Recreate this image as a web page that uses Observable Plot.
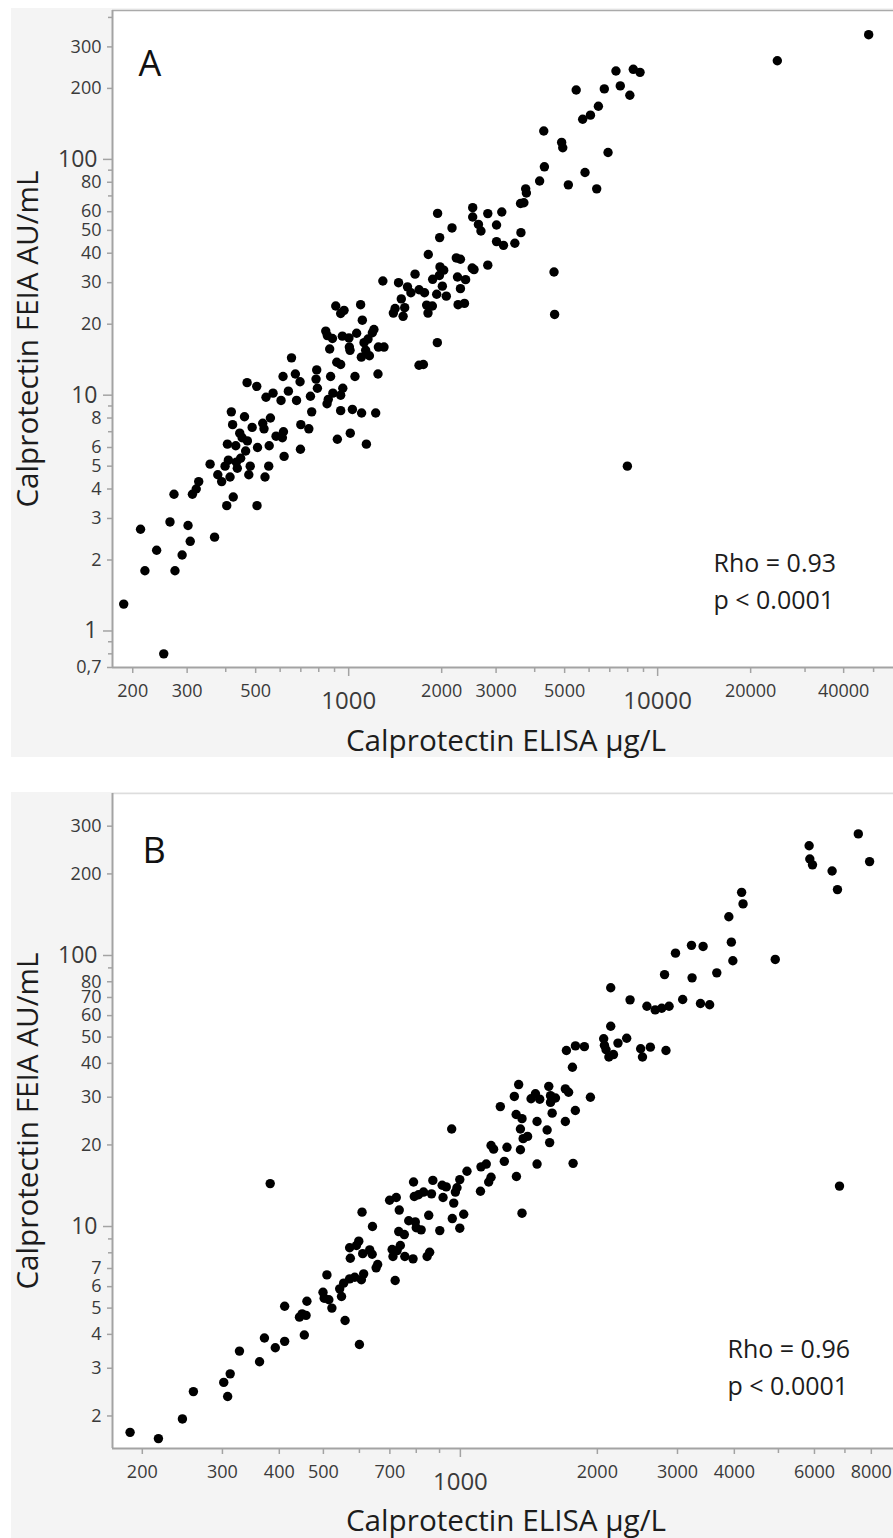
<!DOCTYPE html>
<html>
<head>
<meta charset="utf-8">
<script src="https://cdn.jsdelivr.net/npm/d3@7"></script>
<script src="https://cdn.jsdelivr.net/npm/@observablehq/plot@0.6"></script>
<style>
  html, body { margin: 0; padding: 0; background: #ffffff; }
  body { width: 893px; height: 1538px; position: relative; overflow: hidden; font-family: "Open Sans", sans-serif; }
  .panel { position: absolute; left: 11px; }
</style>
</head>
<body>
<div id="panelA" class="panel" style="top:8px"></div>
<div id="panelB" class="panel" style="top:792px"></div>
<script>
// ---------- Panel A data (ELISA µg/L, FEIA AU/mL) ----------
const aElisa = [187,252,212,219,239,264,272,274,289,302,307,312,321,327,356,368,377,388,398,403,405,408,413,417,421,423,431,433,436,444,447,452,460,464,469,470,475,480,487,504,505,507,527,532,536,540,551,553,558,569,582,604,610,613,615,618,638,672,678,696,698,700,743,752,759,784,792,851,859,874,889,919,942,942,957,1012,1028,1048,1101,1141,1223,1244,
  1940,1970,1810,1640,1975,1966,1870,1290,1450,1550,1590,1690,1760,1927,1480,1413,1395,1518,1500,1788,1866,1806,908,966,942,1093,1107,843,853,886,954,1002,1061,1207,1193,1155,1121,868,1005,1010,1135,1099,1167,1248,1301,1936,1689,1745,653,788,915,942,
  48200,24400,7330,8340,8770,5450,6720,7570,8130,6430,6060,5720,4280,4890,4930,6910,4300,5820,4150,5140,6350,3740,3760,3600,3690,2520,2820,3130,2520,2160,2630,2680,3010,3610,3010,3170,3450,4620,4640,2230,2300,2510,2545,2820,2030,2010,2070,2250,2300,2390,2260,2370,
  7980];
const aFeia = [1.3,0.8,2.7,1.8,2.2,2.9,3.8,1.8,2.1,2.8,2.4,3.8,4.0,4.3,5.1,2.5,4.6,4.3,5.0,3.4,6.2,5.3,4.5,8.5,7.5,3.7,6.1,5.2,4.9,6.9,5.4,6.6,8.1,5.8,11.3,6.4,4.6,5.0,7.3,10.9,3.4,6.0,7.6,7.2,4.5,9.8,5.0,6.1,8.0,10.2,6.7,9.5,6.6,12.0,7.0,5.5,10.4,12.3,9.5,11.4,5.9,7.5,7.2,9.9,8.5,11.7,10.7,9.2,9.6,12.0,10.2,6.5,8.6,10.0,10.7,6.9,8.7,12.0,8.4,6.2,8.4,12.3,
  59,46.6,39.5,32.6,35,32.2,31,30.5,30.0,28.8,27.2,28.0,27.2,26.8,25.6,23.3,22.3,23.5,21.6,24.1,23.9,22.3,23.9,22.9,22.2,24.2,20.8,18.7,17.9,17.4,17.8,17.5,18.3,19.0,18.4,17.3,16.7,15.7,16.0,15.5,15.5,14.5,14.7,16.0,16.0,16.7,13.4,13.5,14.4,12.8,13.8,13.5,
  338,262,237,241,234,197,199,205,187,168,154,148,132,118,112,107,93,88,81,78,75,75,72,65,65.5,62.4,58.9,59.8,57,51.2,53,49.7,52.7,48.9,44.8,43.2,44.1,33.3,22,38.2,37.7,34.6,34.1,35.6,33.9,29,26.3,31.7,28.3,30.9,24.2,24.5,
  5.0];

// ---------- Panel B data (ELISA µg/L, FEIA AU/mL) ----------
const bElisa = [188,217,245,259,302,312,308,327,362,371,392,382,411,411,443,449,458,454,460,499,502,509,514,522,543,548,554,558,571,573,571,586,598,591,600,608,610,606,613,632,640,641,653,658,699,708,711,719,723,726,734,732,738,753,755,770,787,789,792,796,800,820,809,830,845,856,852,864,870,901,912,931,916,
  967,975,983,997,1034,960,1017,997,1107,1110,1140,1154,1168,1249,1328,1366,1474,1769,6810,
  7490,5840,5860,5940,6560,7930,6740,4150,4180,3890,3940,3970,4920,3660,3220,3415,2970,2810,3230,2140,2360,2570,2680,2770,2875,3080,3370,3530,2140,2065,2073,2090,2120,2170,2220,2320,1710,1790,1873,1763,2490,2615,2513,2830,1343,1314,1224,1430,1462,1494,1564,1578,1618,1578,1701,1729,1931,1789,1701,1591,1474,1551,1571,1326,1366,1355,1374,1405,1355,1168,1183,1266,957];
const bFeia = [1.74,1.65,1.95,2.46,2.66,2.86,2.36,3.47,3.17,3.88,3.57,14.4,3.77,5.08,4.63,4.76,4.70,3.98,5.30,5.72,5.44,6.63,5.37,5.0,5.89,5.52,6.18,4.50,8.35,7.64,6.41,6.5,8.83,8.51,3.67,11.3,7.94,6.36,6.69,8.2,7.9,10.0,7.04,7.24,12.5,8.23,7.75,6.32,12.8,8.15,11.5,9.58,8.51,9.34,7.75,10.5,7.6,14.6,12.9,10.4,9.9,9.72,13.1,13.4,7.75,8.04,11.0,13.2,14.8,9.66,14.2,14.0,12.8,
  12.2,13.4,13.9,14.9,16.0,10.7,11.1,9.86,13.5,16.6,17.0,14.6,15.2,17.4,15.3,11.2,17.0,17.1,14.1,
  281,254,227,216,205,222,175,171,155,139,112,95.6,96.7,86.3,109,108,102,85,82.7,76,68.6,65.0,63,63.9,65,68.8,66.5,65.8,54.8,49.3,46.6,44.9,42.2,43.1,47.5,49.5,44.6,46.4,46.1,38.7,45.3,45.9,42.2,44.6,33.4,30.2,27.7,29.6,30.9,29.5,32.9,30.4,29.8,28.7,32.2,31.3,30.0,26.8,24.4,26.2,24.4,22.7,20.4,25.9,25.0,22.9,21.1,21.5,19.2,19.9,19.3,19.6,22.9];

// ---------- Axis ticks ----------
const aXSmall = [200, 300, 500, 2000, 3000, 5000, 20000, 40000];
const aXBig = [1000, 10000];
const aXMinor = [400, 600, 700, 800, 900, 4000, 6000, 7000, 8000, 9000, 30000, 50000];
const aYSmall = [300, 200, 80, 60, 50, 40, 30, 20, 8, 6, 5, 4, 3, 2, 0.7];
const aYBig = [100, 10, 1];
const aYMinor = [400, 90, 70, 9, 7, 0.9, 0.8];

const bXSmall = [200, 300, 400, 500, 700, 2000, 3000, 4000, 6000, 8000];
const bXBig = [1000];
const bXMinor = [600, 800, 900, 5000, 7000, 9000];
const bYSmall = [300, 200, 80, 70, 60, 50, 40, 30, 20, 7, 6, 5, 4, 3, 2];
const bYBig = [100, 10];
const bYMinor = [90, 9, 8];

const xTitle = "Calprotectin ELISA µg/L";
const yTitle = "Calprotectin FEIA AU/mL";
const aStats = ["Rho = 0.93", "p < 0.0001"];
const bStats = ["Rho = 0.96", "p < 0.0001"];

const axisColor = "#a3a3a3";
const tickText = "#3a3a3a";
const fmt = d => String(d).replace(".", ",");
const blank = () => "";

function makePanel(cfg) {
  const data = cfg.elisa.map((x, i) => ({elisa: x, feia: cfg.feia[i]}));
  const tickOpts = {stroke: axisColor, strokeWidth: 1.5, label: null, tickFormat: blank};
  return Plot.plot({
    width: 882,
    height: cfg.height,
    marginLeft: 101,
    marginRight: 0,
    marginTop: cfg.marginTop,
    marginBottom: 90,
    style: {background: "#f4f4f4", fontFamily: "Open Sans", overflow: "visible"},
    x: {type: "log", domain: cfg.xDomain, axis: null, label: null},
    y: {type: "log", domain: cfg.yDomain, axis: null, label: null},
    marks: [
      Plot.frame({fill: "white", stroke: "none"}),
      Plot.ruleY([cfg.yDomain[1]], {stroke: cfg.topColor, strokeWidth: 1.5}),
      Plot.dot(data, {x: "elisa", y: "feia", r: 4.7, fill: "#000", stroke: "none"}),
      Plot.ruleX([cfg.xDomain[0]], {stroke: axisColor, strokeWidth: 2}),
      Plot.ruleY([cfg.yDomain[0]], {stroke: axisColor, strokeWidth: 2}),
      // x-axis ticks
      Plot.axisX(cfg.xMinor, {anchor: "bottom", tickSize: 5, ...tickOpts}),
      Plot.axisX(cfg.xSmall, {anchor: "bottom", tickSize: 6, ...tickOpts}),
      Plot.axisX(cfg.xBig, {anchor: "bottom", tickSize: 9, ...tickOpts}),
      // y-axis ticks
      Plot.axisY(cfg.yMinor, {anchor: "left", tickSize: 4, ...tickOpts}),
      Plot.axisY(cfg.ySmall, {anchor: "left", tickSize: 5, ...tickOpts}),
      Plot.axisY(cfg.yBig, {anchor: "left", tickSize: 9, ...tickOpts}),
      // x-axis tick labels
      Plot.text(cfg.xSmall, {x: d => d, text: fmt, frameAnchor: "bottom", dy: 29, lineAnchor: "bottom", textAnchor: "middle", fontSize: 18, fill: tickText}),
      Plot.text(cfg.xBig, {x: d => d, text: fmt, frameAnchor: "bottom", dy: 41, lineAnchor: "bottom", textAnchor: "middle", fontSize: 24, fill: tickText}),
      // y-axis tick labels
      Plot.text(cfg.ySmall, {y: d => d, text: fmt, frameAnchor: "left", dx: -11, lineAnchor: "middle", textAnchor: "end", fontSize: 18, fill: tickText}),
      Plot.text(cfg.yBig, {y: d => d, text: fmt, frameAnchor: "left", dx: -15, lineAnchor: "middle", textAnchor: "end", fontSize: 23, fill: tickText}),
      // titles
      Plot.text([xTitle], {text: d => d, frameAnchor: "bottom", dx: 3, dy: cfg.xTitleDy, lineAnchor: "bottom", textAnchor: "middle", fontSize: 29.7, fill: "#1c1c1c"}),
      Plot.text([yTitle], {text: d => d, frameAnchor: "left", dx: -75, dy: 0, rotate: -90, lineAnchor: "bottom", textAnchor: "middle", fontSize: 29.7, fill: "#1c1c1c"}),
      // panel tag
      Plot.text([cfg.tag], {text: d => d, frameAnchor: "top-left", dx: cfg.tagDx, dy: cfg.tagDy, lineAnchor: "bottom", textAnchor: "start", fontSize: 36, fill: "#111"}),
      // statistics annotation
      Plot.text([cfg.stats.join("\n")], {text: d => d, frameAnchor: "top-left", dx: cfg.statsDx, dy: cfg.statsDy, lineAnchor: "top", textAnchor: "start", lineHeight: 1.48, fontSize: 25, fill: "#1c1c1c"})
    ]
  });
}

document.getElementById("panelA").appendChild(makePanel({
  elisa: aElisa, feia: aFeia, height: 749, marginTop: 2,
  xDomain: [172, 58000], yDomain: [0.7, 428],
  xSmall: aXSmall, xBig: aXBig, xMinor: aXMinor,
  ySmall: aYSmall, yBig: aYBig, yMinor: aYMinor,
  topColor: "#aaaaaa", tag: "A", tagDx: 26, tagDy: 65,
  stats: aStats, statsDx: 601, statsDy: 535, xTitleDy: 83
}));

document.getElementById("panelB").appendChild(makePanel({
  elisa: bElisa, feia: bFeia, height: 746, marginTop: 1,
  xDomain: [172, 8950], yDomain: [1.517, 396],
  xSmall: bXSmall, xBig: bXBig, xMinor: bXMinor,
  ySmall: bYSmall, yBig: bYBig, yMinor: bYMinor,
  topColor: "#dddddd", tag: "B", tagDx: 30, tagDy: 69,
  stats: bStats, statsDx: 615, statsDy: 538, xTitleDy: 82
}));
</script>
</body>
</html>
